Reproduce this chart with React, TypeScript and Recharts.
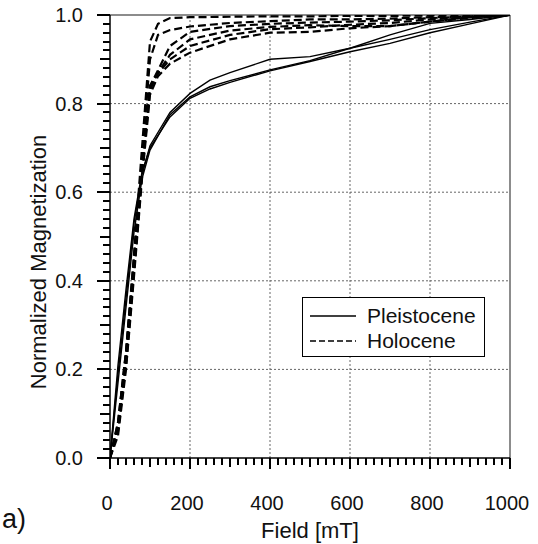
import { LineChart, Line, XAxis, YAxis, ReferenceLine } from "recharts";

const FONT = "'Liberation Sans', Arial, Helvetica, sans-serif";

// field steps (mT)
const pleistoceneFields = [0, 20, 40, 60, 80, 100, 150, 200, 250, 300, 400, 500, 600, 700, 800, 900, 1000];
const holoceneFields = [0, 20, 40, 60, 80, 100, 120, 150, 200, 300, 400, 500, 600, 700, 800, 900, 1000];

// normalized IRM, Pleistocene samples (solid)
const pleistoceneA = [0, 0.19, 0.36, 0.53, 0.64, 0.705, 0.78, 0.823, 0.853, 0.87, 0.9, 0.906, 0.925, 0.945, 0.967, 0.984, 1.0];
const pleistoceneB = [0, 0.17, 0.34, 0.51, 0.63, 0.695, 0.775, 0.815, 0.838, 0.852, 0.876, 0.897, 0.925, 0.955, 0.981, 0.99, 1.0];
const pleistoceneC = [0, 0.21, 0.38, 0.54, 0.645, 0.7, 0.77, 0.812, 0.833, 0.848, 0.874, 0.895, 0.917, 0.936, 0.96, 0.98, 1.0];

// normalized IRM, Holocene samples (dashed)
const holoceneA = [0, 0.08, 0.24, 0.46, 0.7, 0.94, 0.98, 0.993, 0.995, 0.996, 0.997, 0.997, 0.998, 0.998, 0.999, 0.999, 1.0];
const holoceneB = [0, 0.07, 0.23, 0.44, 0.68, 0.9, 0.955, 0.966, 0.974, 0.982, 0.986, 0.99, 0.99, 0.992, 0.995, 0.997, 1.0];
const holoceneC = [0, 0.08, 0.24, 0.45, 0.66, 0.84, 0.875, 0.93, 0.962, 0.975, 0.98, 0.983, 0.985, 0.988, 0.993, 0.997, 1.0];
const holoceneD = [0, 0.06, 0.21, 0.42, 0.64, 0.83, 0.87, 0.91, 0.945, 0.965, 0.973, 0.977, 0.975, 0.975, 0.985, 0.993, 1.0];
const holoceneE = [0, 0.07, 0.22, 0.43, 0.65, 0.84, 0.868, 0.9, 0.93, 0.955, 0.968, 0.972, 0.978, 0.982, 0.99, 0.995, 1.0];
const holoceneF = [0, 0.05, 0.2, 0.41, 0.63, 0.82, 0.862, 0.89, 0.915, 0.945, 0.96, 0.962, 0.97, 0.975, 0.985, 0.995, 1.0];

// axes
const xMajor = [0, 200, 400, 600, 800, 1000];
const yMajor = [0, 0.2, 0.4, 0.6, 0.8, 1.0];
const xGrid = [200, 400, 600, 800];
const yGrid = [0.2, 0.4, 0.6, 0.8];
const xMinorTicks = Array.from({ length: 51 }, (_, i) => i * 20);
const yMinorTicks = Array.from({ length: 51 }, (_, i) => i / 50);

// plot box (px) — same as chart margins / axis sizes below
const PLOT_L = 110;
const PLOT_B = 458;
const PLOT_W = 400;
const PLOT_H = 443;

const pts = (fields: number[], vals: number[]) => fields.map((f, i) => ({ f, m: vals[i] }));

const solid = [pleistoceneA, pleistoceneB, pleistoceneC].map((v) => pts(pleistoceneFields, v));
const dashed = [holoceneA, holoceneB, holoceneC, holoceneD, holoceneE, holoceneF].map((v) => pts(holoceneFields, v));

const xTickLen = (v: number) => (xMajor.includes(v) ? 11 : v % 100 === 0 ? 9 : 7);
const yTickLen = (v: number) => {
  const k = Math.round(v * 100);
  return k % 20 === 0 ? 13 : k % 10 === 0 ? 10 : 7;
};

const XTick = (props: any) => {
  const x = Number(props.x);
  const y = Number(props.y);
  const v = props.payload.value as number;
  if (!xMajor.includes(v)) return <g />;
  return (
    <text x={x - 3} y={y + 52} textAnchor="middle" fontSize={20} fontFamily={FONT} fill="#111" stroke="none">
      {v}
    </text>
  );
};

const YTick = (props: any) => {
  const x = Number(props.x);
  const y = Number(props.y);
  const k = Math.round(props.payload.value * 100);
  if (!yMajor.some((m) => Math.round(m * 100) === k)) return <g />;
  return (
    <text x={x - 27} y={y + 7} textAnchor="end" fontSize={20} fontFamily={FONT} fill="#111" stroke="none">
      {(k / 100).toFixed(1)}
    </text>
  );
};

// small tick marks outside the plot box
function TickMarks() {
  return (
    <svg width={538} height={544} style={{ position: "absolute", left: 0, top: 0, pointerEvents: "none" }}>
      <g stroke="#000" strokeWidth={1.6} shapeRendering="crispEdges">
        {xMinorTicks.map((v) => {
          const px = Math.round(PLOT_L + (v / 1000) * PLOT_W);
          return <line key={"tx" + v} x1={px} y1={PLOT_B} x2={px} y2={PLOT_B + xTickLen(v)} />;
        })}
        {yMinorTicks.map((v) => {
          const py = Math.round(PLOT_B - v * PLOT_H);
          return <line key={"ty" + v} x1={PLOT_L - yTickLen(v)} y1={py} x2={PLOT_L} y2={py} />;
        })}
      </g>
    </svg>
  );
}

export default function App() {
  return (
    <div style={{ position: "absolute", left: 0, top: 0, width: 538, height: 544, background: "#fff", fontFamily: FONT }}>
      <LineChart width={538} height={544} margin={{ top: 15, right: 28, bottom: 0, left: 0 }}>
        {xGrid.map((v) => (
          <ReferenceLine key={"gx" + v} x={v} stroke="#666" strokeWidth={1} strokeDasharray="2 2" />
        ))}
        {yGrid.map((v) => (
          <ReferenceLine key={"gy" + v} y={v} stroke="#666" strokeWidth={1} strokeDasharray="2 2" />
        ))}
        <ReferenceLine x={1000} stroke="#666" strokeWidth={1.5} />
        <ReferenceLine y={1} stroke="#666" strokeWidth={1.5} />
        <XAxis
          dataKey="f"
          type="number"
          domain={[0, 1000]}
          ticks={xMinorTicks}
          interval={0}
          height={86}
          tickSize={0}
          tickMargin={0}
          tickLine={false}
          tick={<XTick />}
          axisLine={{ stroke: "#000", strokeWidth: 1.5 }}
          allowDataOverflow
        />
        <YAxis
          type="number"
          domain={[0, 1]}
          ticks={yMinorTicks}
          interval={0}
          width={110}
          tickSize={0}
          tickMargin={0}
          tickLine={false}
          tick={<YTick />}
          axisLine={{ stroke: "#000", strokeWidth: 1.5 }}
          allowDataOverflow
        />
        {solid.map((d, i) => (
          <Line
            key={"p" + i}
            data={d}
            dataKey="m"
            type="linear"
            stroke="#000"
            strokeWidth={1.4}
            dot={false}
            isAnimationActive={false}
          />
        ))}
        {dashed.map((d, i) => (
          <Line
            key={"h" + i}
            data={d}
            dataKey="m"
            type="linear"
            stroke="#000"
            strokeWidth={2.2}
            strokeDasharray="8 4"
            dot={false}
            isAnimationActive={false}
          />
        ))}
      </LineChart>

      <TickMarks />

      <div
        style={{
          position: "absolute",
          left: 39,
          top: 262,
          transform: "translate(-50%, -50%) rotate(-90deg)",
          fontSize: 22,
          whiteSpace: "nowrap",
          color: "#111",
        }}
      >
        Normalized Magnetization
      </div>
      <div style={{ position: "absolute", left: 0, width: 620, top: 518, textAlign: "center", fontSize: 22, color: "#111" }}>
        Field [mT]
      </div>
      <div style={{ position: "absolute", left: 2, top: 504, fontSize: 27, color: "#111" }}>a)</div>

      <div
        style={{
          position: "absolute",
          left: 302,
          top: 297,
          width: 183,
          height: 60,
          border: "1.5px solid #000",
          background: "#fff",
          boxSizing: "border-box",
          fontSize: 21,
          color: "#111",
        }}
      >
        <div style={{ position: "absolute", left: 7, top: 6, display: "flex", alignItems: "center" }}>
          <svg width={46} height={10}>
            <line x1={0} y1={5} x2={46} y2={5} stroke="#000" strokeWidth={1.4} />
          </svg>
          <span style={{ marginLeft: 11 }}>Pleistocene</span>
        </div>
        <div style={{ position: "absolute", left: 7, top: 31, display: "flex", alignItems: "center" }}>
          <svg width={46} height={10}>
            <line x1={0} y1={5} x2={46} y2={5} stroke="#000" strokeWidth={1.6} strokeDasharray="6 3" />
          </svg>
          <span style={{ marginLeft: 11 }}>Holocene</span>
        </div>
      </div>
    </div>
  );
}
